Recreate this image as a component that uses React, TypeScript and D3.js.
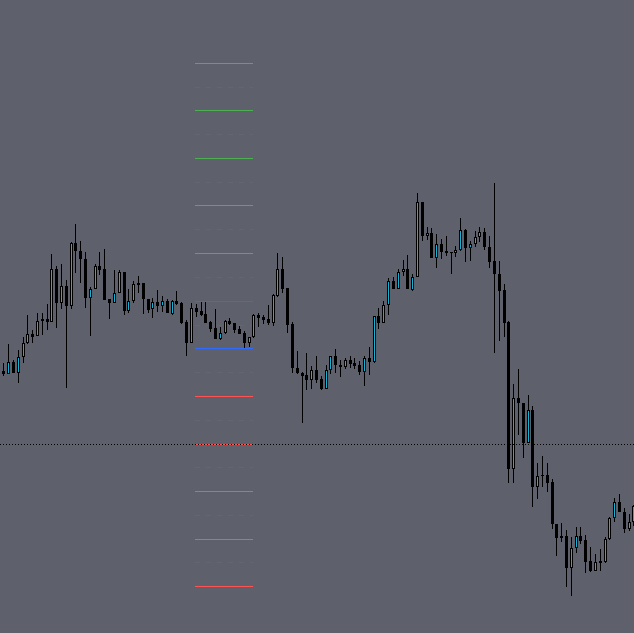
import React from "react";
import * as d3 from "d3";

const W = 634;
const H = 633;

const opens = [
  1262, 1259.3, 1270.7, 1260.3, 1275.7, 1289.7, 1299, 1296.7, 1311.7, 1314,
  1310.7, 1363.7, 1329.7, 1346.7, 1327.3, 1389.7, 1382.3, 1373.7, 1335.3, 1343.7,
  1366.7, 1363.7, 1333.7, 1330.3, 1339.7, 1360.7, 1322.3, 1331.7, 1350.3, 1350,
  1333.7, 1323.7, 1330.7, 1327.3, 1332, 1319, 1332, 1330.3, 1311.3, 1290.3,
  1325.3, 1322, 1318.7, 1311.3, 1305, 1294.3, 1299.7, 1312, 1309.7, 1304,
  1299.7, 1290.3, 1295.7, 1317.7, 1316, 1314, 1310.3, 1337.3, 1363.7, 1345,
  1309, 1264.7, 1260, 1258, 1253, 1263, 1254, 1244, 1263, 1276.7,
  1268, 1265.7, 1273, 1269.7, 1268, 1261, 1274.7, 1271.3, 1317, 1310.3,
  1328, 1352, 1344.3, 1360.7, 1364, 1343, 1356.3, 1430.7, 1397.3, 1399.7,
  1375.3, 1388.7, 1382, 1381, 1380.3, 1383, 1403, 1385.3, 1388.7, 1395.7,
  1400.7, 1386.3, 1372, 1358.7, 1343, 1311.3, 1163.7, 1234.7, 1229.7, 1190.3,
  1222.7, 1146.3, 1158, 1158, 1151, 1108.7, 1097, 1097, 1065.3, 1084.7,
  1096.7, 1093, 1072, 1062.3, 1072, 1071.3, 1093.7, 1114.7, 1131.3, 1121.3,
  1103.7, 1111.3,
];

const highs = [
  1269.7, 1289, 1273, 1283, 1296.3, 1318, 1303, 1320.3, 1319.7, 1329,
  1379, 1367.3, 1369, 1353, 1390.7, 1409, 1392, 1381.3, 1346.3, 1368.7,
  1380.7, 1383.7, 1333.7, 1363, 1363, 1361.3, 1344, 1352, 1357, 1350,
  1333.7, 1334.7, 1343, 1337, 1333.7, 1333, 1342, 1331.3, 1313, 1329.7,
  1328.7, 1330.7, 1332, 1312, 1323.7, 1305.7, 1313, 1314.7, 1309.7, 1306.7,
  1302, 1295.7, 1318.7, 1319.7, 1318, 1328, 1339, 1379.7, 1376, 1345,
  1311.3, 1282, 1260.7, 1279.7, 1267, 1277, 1257, 1268, 1277, 1284,
  1273, 1274.7, 1277, 1274.7, 1272.3, 1277, 1285.7, 1317, 1325.3, 1332.3,
  1354.7, 1356.3, 1364, 1373, 1377.5, 1358.7, 1439.7, 1430.7, 1406.3, 1404.7,
  1398.7, 1393.7, 1397, 1381, 1387, 1414.7, 1403.7, 1392, 1402, 1405.7,
  1405.3, 1397, 1449.7, 1372, 1349, 1312.3, 1249, 1264, 1229.7, 1238,
  1227, 1169.7, 1177, 1169.7, 1153.7, 1108.7, 1109.7, 1103, 1095.7, 1105.7,
  1105.7, 1098, 1085.7, 1079, 1083.7, 1096.3, 1116.3, 1134.7, 1138.7, 1124.7,
  1119, 1128,
];

const lows = [
  1257.3, 1259.3, 1260.3, 1249.7, 1270.3, 1288.7, 1289.7, 1296.7, 1298, 1303,
  1310.7, 1304.7, 1323.7, 1244.7, 1323.7, 1360.3, 1350.3, 1324.7, 1297.3, 1343.7,
  1358, 1333, 1314.3, 1329.7, 1339.7, 1318, 1320.3, 1329.7, 1339.7, 1318.7,
  1320.3, 1314.7, 1321.3, 1321.3, 1319.7, 1318, 1328, 1309, 1277, 1290.3,
  1316.3, 1317, 1309.7, 1301.3, 1293.7, 1293, 1299, 1308, 1300.3, 1299,
  1285.3, 1286.3, 1295.3, 1305.7, 1309, 1308.3, 1307, 1336.3, 1339.7, 1300.3,
  1260.3, 1259, 1209.7, 1243, 1243.7, 1250.3, 1243, 1244, 1259, 1260.3,
  1256.3, 1263.7, 1264.7, 1264, 1257.7, 1247, 1258, 1269.7, 1303.7, 1310.3,
  1318, 1344.3, 1343.7, 1357, 1343.7, 1342.3, 1356.3, 1392, 1393, 1375.3,
  1365.3, 1374, 1377, 1359, 1376.3, 1382.3, 1371.3, 1372, 1386.3, 1390.7,
  1383, 1365.3, 1280.3, 1292.3, 1296.3, 1150.3, 1150.3, 1198, 1174.7, 1189.7,
  1125.7, 1133.7, 1146.3, 1141.3, 1104, 1077.3, 1091.3, 1046.3, 1037.3, 1080.3,
  1089, 1059.7, 1060.7, 1062, 1062.3, 1070.3, 1093, 1111.3, 1121.3, 1100.3,
  1102.3, 1107,
];

const closes = [
  1259, 1270.7, 1260.3, 1275.7, 1289.7, 1298.7, 1296.3, 1312, 1314, 1310.7,
  1363.7, 1329.7, 1346.7, 1327.3, 1389.7, 1382.3, 1373.7, 1335.3, 1343.7, 1366.7,
  1363, 1333, 1330.3, 1339.7, 1360.7, 1322.3, 1332, 1348.7, 1348.3, 1333.7,
  1323, 1330.7, 1327.3, 1332, 1319.7, 1332, 1329, 1310.3, 1290.3, 1324.7,
  1321.3, 1318, 1310.3, 1304, 1294.3, 1299.7, 1312, 1309.3, 1303, 1299.3,
  1290.3, 1295.7, 1317.7, 1315, 1313, 1310.3, 1338, 1363.7, 1344.3, 1308.5,
  1264.7, 1259.7, 1257.3, 1253, 1263, 1253, 1244, 1263, 1276.7, 1268,
  1265.7, 1273, 1269, 1267.3, 1261, 1274.7, 1271.3, 1317, 1310.3, 1328,
  1352, 1344.3, 1360.7, 1364, 1343.7, 1356.3, 1430.7, 1397.3, 1399.7, 1375.3,
  1388.7, 1381.3, 1380.3, 1380.3, 1383, 1403, 1384.7, 1388.7, 1395.7, 1400.7,
  1386.3, 1371.3, 1358.7, 1342.3, 1310.3, 1163.7, 1234.7, 1229.7, 1190.3, 1222.7,
  1146.3, 1157, 1157, 1150.3, 1108.7, 1095.3, 1095.3, 1065.3, 1084.7, 1096.7,
  1092.3, 1071.3, 1062.3, 1070.7, 1070.3, 1093.7, 1114.7, 1131.3, 1121.3, 1103.7,
  1111.3, 1127,
];

const greenLevels = [1569.7, 1522.7, 1474.7, 1427.7, 1379.7];
const blueLevels = [1331.7, 1284.7];
const redLevels = [1236.7, 1189.3, 1141.7, 1093.7, 1046.7];
const midLevels = [1546, 1498.7, 1451.3, 1403.7, 1355.7, 1308, 1260.7, 1213, 1165.7, 1117.7, 1071];
const currentPrice = 1188.7;
const levelStartIdx = 39.85;
const levelEndIdx = 51.9;

const BG = "#5e616b";
const UP = "#10b4d2";
const GREEN = "#4caf50";
const BLUE = "#2f6bff";
const RED = "#ff5252";

export default function App() {
  const n = opens.length;
  const x = d3.scaleLinear().domain([0, n - 1]).range([3.3, 633.4]);
  const y = d3.scaleLinear().domain([1000, 1633]).range([H, 0]);

  const candles = d3.range(n).map((i) => {
    const o = opens[i], h = highs[i], l = lows[i], c = closes[i];
    const cx = Math.round(x(i));
    const up = c > o;
    const top = Math.round(y(Math.max(o, c)));
    const bot = Math.max(Math.round(y(Math.min(o, c))), top + 1);
    const hy = Math.round(y(h));
    const ly = Math.round(y(l));
    return (
      <g key={i}>
        <rect x={cx} y={hy} width={1} height={Math.max(1, ly - hy)} fill="#000" />
        <rect x={cx - 1} y={top} width={3} height={Math.max(1, bot - top)} fill="#000" />
        {up && bot - top > 2 ? (
          <rect x={cx} y={top + 1} width={1} height={bot - top - 2} fill={UP} />
        ) : null}
      </g>
    );
  });

  const lx1 = Math.round(x(levelStartIdx));
  const lx2 = Math.round(x(levelEndIdx));
  const solid = (vals: number[], color: string) =>
    vals.map((v, i) => (
      <line key={color + i} x1={lx1} x2={lx2} y1={Math.round(y(v)) + 0.5} y2={Math.round(y(v)) + 0.5} stroke={color} strokeWidth={1} />
    ));

  return (
    <svg
      width={W}
      height={H}
      style={{ position: "fixed", left: 0, top: 0, display: "block" }}
      shapeRendering="crispEdges"
    >
      <rect x={0} y={0} width={W} height={H} fill={BG} />
      {midLevels.map((v, i) => (
        <line key={"m" + i} x1={lx1} x2={lx2} y1={Math.round(y(v)) + 0.5} y2={Math.round(y(v)) + 0.5}
          stroke="rgba(255,255,255,0.035)" strokeWidth={1} strokeDasharray="5,6" />
      ))}
      {candles}
      {solid(greenLevels, GREEN)}
      {solid(blueLevels, BLUE)}
      {solid(redLevels, RED)}
      <line x1={0} x2={W} y1={Math.round(y(currentPrice)) + 0.5} y2={Math.round(y(currentPrice)) + 0.5}
        stroke="#000" strokeWidth={1} strokeDasharray="1,2" />
    </svg>
  );
}
